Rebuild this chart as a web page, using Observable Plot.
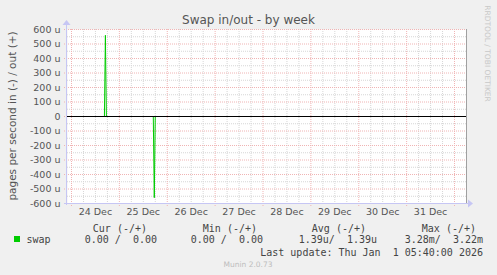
<!DOCTYPE html>
<html>
<head>
<meta charset="utf-8">
<script src="https://cdn.jsdelivr.net/npm/d3@7"></script>
<script src="https://cdn.jsdelivr.net/npm/@observablehq/plot@0.6"></script>
<style>
  html, body { margin: 0; padding: 0; background: #f0f0f0; }
  #chart { width: 497px; height: 275px; }
  svg { display: block; }
</style>
</head>
<body>
<div id="chart"></div>
<script>
// ---- data ----
const title = "Swap in/out - by week";
const yLabel = "pages per second in (-) / out (+)";
const sideLabel = "RRDTOOL / TOBI OETIKER";
const footer = "Munin 2.0.73";
const rangeStart = "2025-12-23T22:00Z";
const rangeEnd = "2026-01-01T06:00Z";

// swap out (+)
const outTimes = ["2025-12-23T22:00Z", "2025-12-24T16:30Z", "2025-12-24T17:00Z", "2025-12-24T17:30Z", "2026-01-01T05:40Z"];
const outValues = [0, 0, 560e-6, 0, 0];
// swap in (-), drawn negative
const inTimes = ["2025-12-23T22:00Z", "2025-12-25T17:00Z", "2025-12-25T17:30Z", "2025-12-25T18:00Z", "2026-01-01T05:40Z"];
const inValues = [0, 0, -560e-6, 0, 0];

const yTicks = [-600e-6, -500e-6, -400e-6, -300e-6, -200e-6, -100e-6, 0, 100e-6, 200e-6, 300e-6, 400e-6, 500e-6, 600e-6];
const yTickLabels = ["-600 u", "-500 u", "-400 u", "-300 u", "-200 u", "-100 u", "0", "100 u", "200 u", "300 u", "400 u", "500 u", "600 u"];
const dayLabels = ["24 Dec", "25 Dec", "26 Dec", "27 Dec", "28 Dec", "29 Dec", "30 Dec", "31 Dec"];

const legendHeaders = ["Cur (-/+)", "Min (-/+)", "Avg (-/+)", "Max (-/+)"];
const legendValues = ["0.00 /  0.00", "0.00 /  0.00", "1.39u/  1.39u", "3.28m/  3.22m"];
const seriesName = "swap";
const lastUpdate = "Last update: Thu Jan  1 05:40:00 2026";

// ---- build ----
const t0 = new Date(rangeStart), t1 = new Date(rangeEnd);
const outData = outTimes.map((t, i) => ({t: new Date(t), v: outValues[i]}));
const inData = inTimes.map((t, i) => ({t: new Date(t), v: inValues[i]}));
const dayStarts = d3.utcDay.range(d3.utcDay.ceil(t0), t1);
const noon = dayStarts.slice(0, dayLabels.length).map(d => d3.utcHour.offset(d, 12));
const sixHours = d3.utcHour.every(6).range(t0, t1).filter(d => d.getUTCHours() !== 0);
const minorY = d3.range(-11, 12, 2).map(k => k * 50e-6);
const majorY = yTicks;

const green = "#00cc00";
const minorColor = "#d6d6d6";
const majorColor = "#f0b4b4";
const axisColor = "#c6c6f4";
const textColor = "#555";

const chart = Plot.plot({
  width: 497,
  height: 275,
  marginLeft: 67,
  marginRight: 31,
  marginTop: 29,
  marginBottom: 72,
  style: {fontFamily: "DejaVu Sans", fontSize: "9.5px", color: textColor, background: "#f0f0f0"},
  x: {type: "utc", domain: [t0, t1]},
  y: {domain: [-600e-6, 600e-6]},
  marks: [
    Plot.frame({fill: "white", stroke: null}),
    Plot.ruleY(minorY, {stroke: minorColor, strokeDasharray: "1,1"}),
    Plot.ruleX(sixHours, {stroke: minorColor, strokeDasharray: "1,1"}),
    Plot.ruleY(majorY.slice(1), {stroke: majorColor, strokeDasharray: "1,1", insetLeft: -3}),
    Plot.ruleX(dayStarts, {stroke: majorColor, strokeDasharray: "1,1", insetBottom: -3}),
    Plot.line(outData, {x: "t", y: "v", stroke: green, strokeWidth: 1}),
    Plot.line(inData, {x: "t", y: "v", stroke: green, strokeWidth: 1}),
    Plot.ruleY([0], {stroke: "black", strokeWidth: 1.2}),
    Plot.axisY({ticks: yTicks, tickFormat: (d, i) => yTickLabels[i], tickSize: 0, tickPadding: 7, label: null, fill: textColor}),
    Plot.axisX({ticks: noon, tickFormat: (d, i) => dayLabels[i], tickSize: 0, tickPadding: 5, label: null, fill: textColor})
  ]
});

document.getElementById("chart").appendChild(chart);

// ---- decorations ----
const svg = d3.select(chart);
const sx = chart.scale("x"), sy = chart.scale("y");
const xl = sx.apply(t0), xr = sx.apply(t1);
const yt = sy.apply(600e-6), yb = sy.apply(-600e-6);

// right border
svg.append("line").attr("x1", xr + 0.5).attr("x2", xr + 0.5).attr("y1", yt).attr("y2", yb)
  .attr("stroke", "#a0a0a0");
// left axis + arrow
svg.append("line").attr("x1", xl - 0.5).attr("x2", xl - 0.5).attr("y1", yt - 4).attr("y2", yb + 2)
  .attr("stroke", axisColor);
svg.append("path").attr("d", `M${xl - 4.5},${yt - 4} L${xl - 0.5},${yt - 9} L${xl + 3.5},${yt - 4} Z`).attr("fill", axisColor);
// bottom axis + arrow
svg.append("line").attr("x1", xl - 3).attr("x2", xr + 3).attr("y1", yb + 0.5).attr("y2", yb + 0.5)
  .attr("stroke", axisColor);
svg.append("path").attr("d", `M${xr + 2},${yb - 3.5} L${xr + 7},${yb + 0.5} L${xr + 2},${yb + 4.5} Z`).attr("fill", axisColor);

// title
svg.append("text").attr("x", 248.5).attr("y", 23.5).attr("text-anchor", "middle")
  .attr("font-family", "DejaVu Sans").attr("font-size", "12px").attr("fill", textColor).text(title);
// y label
svg.append("text").attr("transform", `translate(15.5,${(yt + yb) / 2}) rotate(-90)`).attr("text-anchor", "middle")
  .attr("font-family", "DejaVu Sans").attr("font-size", "10.5px").attr("fill", textColor).text(yLabel);
// side label
svg.append("text").attr("transform", `translate(485,53.5) rotate(90)`).attr("text-anchor", "middle")
  .attr("font-family", "DejaVu Sans").attr("font-size", "7.5px").attr("fill", "#c8c8c8").text(sideLabel);

// legend
const mono = "DejaVu Sans Mono";
const headerEnds = [147, 257, 366, 476];
const valueEnds = [157, 263, 377, 483];
legendHeaders.forEach((h, i) => {
  svg.append("text").attr("x", headerEnds[i]).attr("y", 231.5).attr("text-anchor", "end")
    .attr("font-family", mono).attr("font-size", "10px").attr("fill", "#444")
    .style("white-space", "pre").text(h);
});
legendValues.forEach((v, i) => {
  svg.append("text").attr("x", valueEnds[i]).attr("y", 242.5).attr("text-anchor", "end")
    .attr("font-family", mono).attr("font-size", "10px").attr("fill", "#444")
    .style("white-space", "pre").text(v);
});
svg.append("rect").attr("x", 14).attr("y", 236).attr("width", 6).attr("height", 6).attr("fill", green);
svg.append("text").attr("x", 26.5).attr("y", 242.5).attr("text-anchor", "start")
  .attr("font-family", mono).attr("font-size", "10px").attr("fill", "#444").text(seriesName);
svg.append("text").attr("x", 483).attr("y", 255.5).attr("text-anchor", "end")
  .attr("font-family", mono).attr("font-size", "10px").attr("fill", "#444")
  .style("white-space", "pre").text(lastUpdate);
svg.append("text").attr("x", 248).attr("y", 267).attr("text-anchor", "middle")
  .attr("font-family", "DejaVu Sans").attr("font-size", "7.5px").attr("fill", "#bdbdbd").text(footer);
</script>
</body>
</html>
